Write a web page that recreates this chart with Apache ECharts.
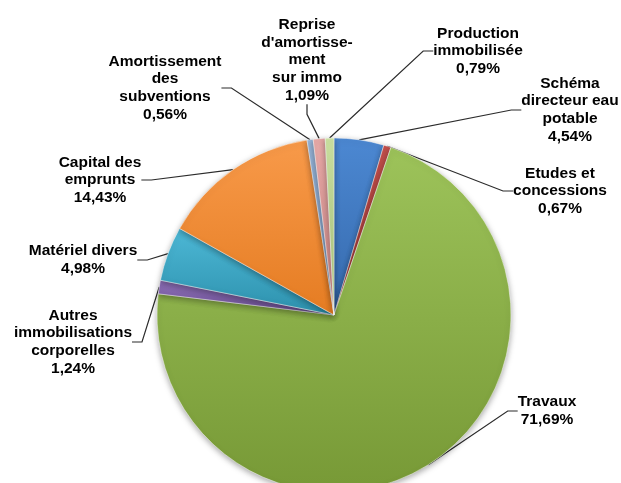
<!DOCTYPE html>
<html><head><meta charset="utf-8">
<script src="https://cdn.jsdelivr.net/npm/echarts@6/dist/echarts.min.js"></script>
<style>html,body{margin:0;padding:0;background:#fff}#c{width:621px;height:483px}</style>
</head><body><div id="c"></div>
<script>
var categories = ["Schéma\ndirecteur eau\npotable", "Etudes et\nconcessions", "Travaux", "Autres\nimmobilisations\ncorporelles", "Matériel divers", "Capital des\nemprunts", "Amortissement\ndes\nsubventions", "Reprise\nd'amortisse-\nment\nsur immo", "Production\nimmobilisée"];
var values = [4.54, 0.67, 71.69, 1.24, 4.98, 14.43, 0.56, 1.09, 0.79];
var labelTexts = ["4,54%", "0,67%", "71,69%", "1,24%", "4,98%", "14,43%", "0,56%", "1,09%", "0,79%"];
var topColors = ["#4C88D2", "#C4504C", "#9DC35A", "#9072BA", "#4DB8D6", "#F89A4A", "#9BB8DC", "#E8AAA8", "#CCE2A2"];
var bottomColors = ["#3569AC", "#9C3532", "#779936", "#6A4E92", "#2D91AD", "#E57C22", "#7898C0", "#CE8684", "#AAC47C"];
var labelPos = [[570, 110], [560, 191], [547, 411], [73, 342], [83, 260], [100, 180], [165, 88], [307, 60], [478, 51]];

var chart = echarts.init(document.getElementById('c'), null, {renderer: 'canvas'});
var data = values.map(function (v, i) {
  return {
    name: categories[i],
    value: v,
    itemStyle: {
      color: {type: 'linear', x: 0, y: 0, x2: 0, y2: 1,
        colorStops: [{offset: 0, color: topColors[i]}, {offset: 1, color: bottomColors[i]}]}
    },
    label: {formatter: categories[i] + '\n' + labelTexts[i]}
  };
});
chart.setOption({
  animation: false,
  series: [{
    type: 'pie',
    center: [334, 315],
    radius: 177,
    startAngle: 90,
    clockwise: true,
    avoidLabelOverlap: false,
    data: data,
    itemStyle: {borderColor: 'rgba(255,255,255,0.45)', borderWidth: 1,
      shadowBlur: 6, shadowColor: 'rgba(0,0,0,0.35)', shadowOffsetY: 2},
    label: {show: true, position: 'outside', color: '#000', fontFamily: 'Liberation Sans, Arial, sans-serif',
      fontWeight: 'bold', fontSize: 15.5, lineHeight: 17.7, align: 'center'},
    labelLine: {show: true, length: 10, length2: 10, lineStyle: {color: '#2b2b2b', width: 1.2}},
    labelLayout: function (p) {
      var pos = labelPos[p.dataIndex];
      return {x: pos[0], y: pos[1], align: 'center', verticalAlign: 'middle'};
    }
  }]
});
</script></body></html>
